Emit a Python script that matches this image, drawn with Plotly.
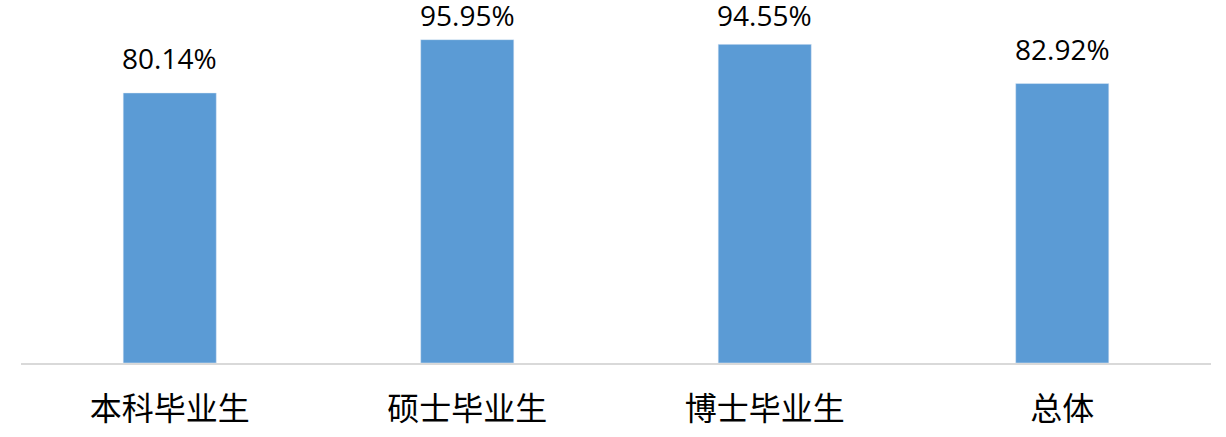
import plotly.graph_objects as go

categories = ["本科毕业生", "硕士毕业生", "博士毕业生", "总体"]
values = [80.14, 95.95, 94.55, 82.92]
value_labels = ["80.14%", "95.95%", "94.55%", "82.92%"]

# labels of the tallest bars are held inside the chart area, like the original
LABEL_CAP = 93

fig = go.Figure(go.Bar(x=categories, y=values, marker_color="#5b9bd5",
                       hoverinfo="skip"))

# value labels above bars
for cat, val, lab in zip(categories, values, value_labels):
    fig.add_annotation(x=cat, y=min(val, LABEL_CAP), text=lab, showarrow=False,
                       yanchor="bottom", yshift=14,
                       font=dict(family="Open Sans", size=28, color="black"))

fig.update_layout(
    width=1226, height=437,
    margin=dict(l=21, r=15, t=26, b=74),
    plot_bgcolor="white", paper_bgcolor="white",
    bargap=0.687,
    showlegend=False,
)
fig.update_xaxes(showline=True, linecolor="#d9d9d9", linewidth=2,
                 ticks="", ticklabelstandoff=17, automargin=False,
                 tickfont=dict(family="Noto Sans CJK SC", size=32, color="black"))
fig.update_yaxes(range=[0, 100], showticklabels=False, showgrid=False,
                 zeroline=False, automargin=False)

fig.write_html("out.html", config={"displayModeBar": False},
               post_script="document.body.style.margin='0';")
